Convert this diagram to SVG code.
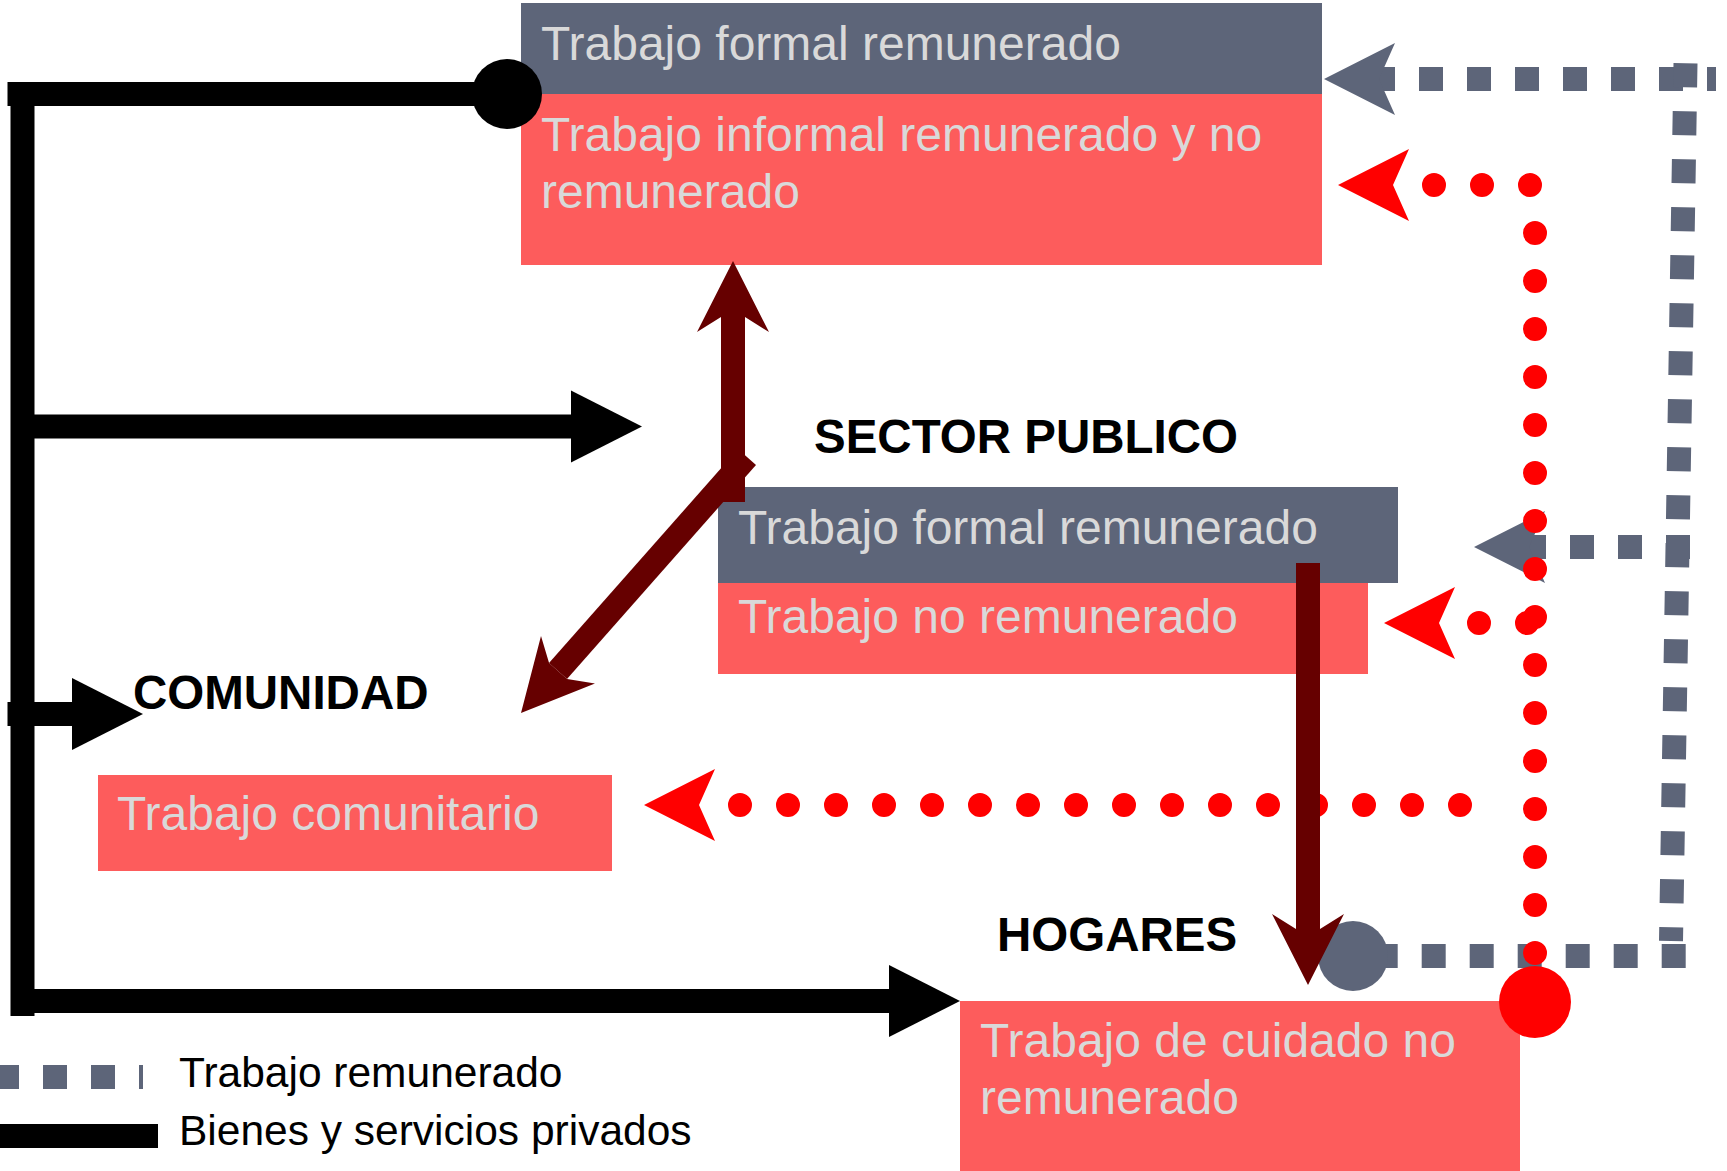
<svg xmlns="http://www.w3.org/2000/svg" xmlns:xlink="http://www.w3.org/1999/xlink" width="1727" height="1171" viewBox="0 0 1727 1171">
<style>
  .grey { fill: #5d6579; }
  .red { fill: #fd5c5c; }
  .boxtxt { font-family: "Liberation Sans", Arial, sans-serif; font-size: 48px; fill: #d9d9d9; }
  .head { font-family: "Liberation Sans", Arial, sans-serif; font-size: 47.5px; font-weight: bold; fill: #000; }
  .legtxt { font-family: "Liberation Sans", Arial, sans-serif; font-size: 42.5px; fill: #000; }
  .paid { fill: none; stroke: #5d6579; stroke-width: 24; stroke-dasharray: 24 24; }
  .unpaid { fill: none; stroke: #ff0000; stroke-width: 24; stroke-linecap: round; stroke-dasharray: 0 48; }
  .flow { fill: none; stroke: #660000; stroke-width: 24; }
  .goods { fill: none; stroke: #000; stroke-width: 24; }
</style>
<defs>
  <path id="stealth" d="M0,0 L-71,-36 L-55,0 L-71,36 Z"/>
  <path id="stealthw" d="M0,0 L-71,-36 L-56,-12 L-56,12 L-71,36 Z"/>
  <path id="tri" d="M0,0 L-71,-36 L-71,36 Z"/>
</defs>
<rect width="1727" height="1171" fill="#fff"/>

<g id="mercado">
  <rect class="grey" x="521" y="3" width="801" height="91"/>
  <rect class="red" x="521" y="94" width="801" height="171"/>
  <text class="boxtxt" x="541" y="60">Trabajo formal remunerado</text>
  <text class="boxtxt" x="541" y="151">Trabajo informal remunerado y no</text>
  <text class="boxtxt" x="541" y="208">remunerado</text>
</g>

<g id="sector-publico">
  <text class="head" x="814" y="453">SECTOR PUBLICO</text>
  <rect class="grey" x="718" y="487" width="680" height="96"/>
  <rect class="red" x="718" y="583" width="650" height="91"/>
  <text class="boxtxt" x="738" y="544">Trabajo formal remunerado</text>
  <text class="boxtxt" x="738" y="633">Trabajo no remunerado</text>
</g>

<g id="comunidad">
  <text class="head" x="133" y="709">COMUNIDAD</text>
  <rect class="red" x="98" y="775" width="514" height="96"/>
  <text class="boxtxt" x="117" y="830">Trabajo comunitario</text>
</g>

<g id="hogares">
  <text class="head" x="997" y="951">HOGARES</text>
  <rect class="red" x="960" y="1001" width="560" height="170"/>
  <text class="boxtxt" x="980" y="1057">Trabajo de cuidado no</text>
  <text class="boxtxt" x="980" y="1114">remunerado</text>
</g>

<g id="connectors">
  <!-- paid work (grey dashed) -->
  <path class="paid" d="M1716,79 H1378" stroke-dashoffset="15"/>
  <use href="#stealth" xlink:href="#stealth" class="grey" transform="translate(1324,79) rotate(180)"/>
  <path class="paid" d="M1685.5,63.3 L1671,941"/>
  <path class="paid" d="M1690,547 H1529"/>
  <use href="#stealth" xlink:href="#stealth" class="grey" transform="translate(1474,547) rotate(180)"/>
  <path class="paid" d="M1685.7,956 H1353"/>
  <circle class="grey" cx="1353" cy="956" r="35"/>

  <!-- unpaid work (red dotted) -->
  <path class="unpaid" d="M1535,1001 V185"/>
  <path class="unpaid" d="M1530,185 H1386"/>
  <use href="#stealth" xlink:href="#stealth" fill="#ff0000" transform="translate(1338,185) rotate(180)"/>
  <path class="unpaid" d="M1527,623 H1431"/>
  <use href="#stealth" xlink:href="#stealth" fill="#ff0000" transform="translate(1384,623) rotate(180)"/>
  <path class="unpaid" d="M1460,805 H692"/>
  <use href="#stealth" xlink:href="#stealth" fill="#ff0000" transform="translate(644,805) rotate(180)"/>
  <circle cx="1535" cy="1002" r="36" fill="#ff0000"/>

  <!-- public sector flows (dark red) -->
  <path class="flow" d="M733,502 V316"/>
  <use href="#stealthw" xlink:href="#stealthw" fill="#660000" transform="translate(733,261) rotate(-90)"/>
  <path class="flow" d="M747,457 L558,671"/>
  <use href="#stealthw" xlink:href="#stealthw" fill="#660000" transform="translate(521,713) rotate(131.44)"/>
  <path class="flow" d="M1308,563 V929"/>
  <use href="#stealthw" xlink:href="#stealthw" fill="#660000" transform="translate(1308,985) rotate(90)"/>

  <!-- private goods and services (black) -->
  <path class="goods" d="M7.5,94 H507"/>
  <circle cx="507" cy="94" r="35" fill="#000"/>
  <path class="goods" d="M22.5,106 V1016"/>
  <path class="goods" d="M34,426.5 H572"/>
  <use href="#tri" xlink:href="#tri" fill="#000" transform="translate(642,426.5)"/>
  <path class="goods" d="M7.5,714 H72"/>
  <use href="#tri" xlink:href="#tri" fill="#000" transform="translate(143,714)"/>
  <path class="goods" d="M34,1001 H889"/>
  <use href="#tri" xlink:href="#tri" fill="#000" transform="translate(960,1001)"/>
</g>

<g id="legend">
  <path class="paid" d="M-5,1077 H143" stroke-width="23"/>
  <text class="legtxt" x="179" y="1087">Trabajo remunerado</text>
  <rect x="0" y="1124" width="158" height="24" fill="#000"/>
  <text class="legtxt" x="179" y="1144.5">Bienes y servicios privados</text>
</g>
</svg>
